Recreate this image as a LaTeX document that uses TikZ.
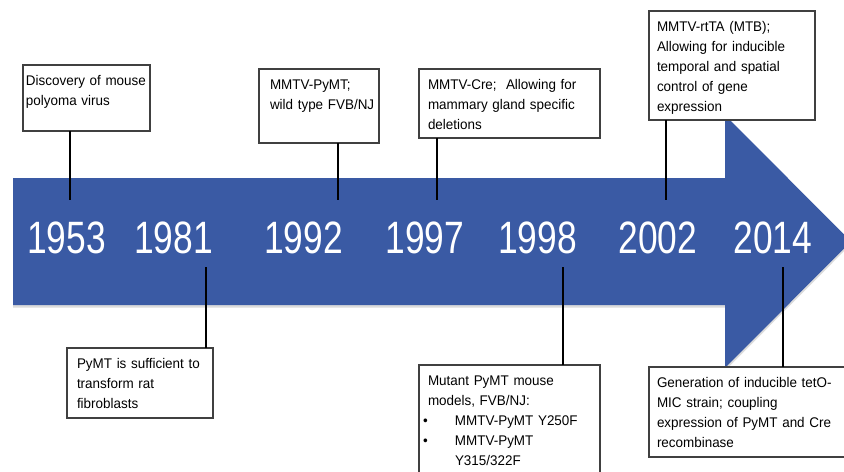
\documentclass[tikz,border=0pt]{standalone}
\usepackage{fontspec}
\setmainfont{Liberation Sans}
\newfontfamily\boxfont[FakeStretch=0.96]{Liberation Sans}
\newfontfamily\yearfont[FakeStretch=0.78]{Liberation Sans}
\usepackage{tikz}
\usetikzlibrary{positioning}
\definecolor{arrowblue}{RGB}{58,90,164}

\tikzset{
  evbox/.style={draw=black!75, line width=0.8pt, fill=white, anchor=north west,
    inner ysep=0pt, outer sep=0pt, text height=15pt, align=left,
    font=\boxfont\fontsize{10.5}{15}\selectfont},
  yearlabel/.style={text=white, anchor=base, inner sep=0pt,
    font=\yearfont\fontsize{34}{34}\selectfont},
  link/.style={black, line width=1.5pt},
}

\begin{document}
\begin{tikzpicture}[x=0.75pt, y=-0.75pt]
\useasboundingbox[fill=white] (0,0) rectangle (844,472);
\clip (0,0) rectangle (844,472);

% --- the time line ---
\fill[arrowblue, preaction={fill=black!40, opacity=0.35, transform canvas={yshift=-2pt}}]
  (13,178) -- (725,178) -- (725,115) -- (851,241.5) -- (725,368) -- (725,305) -- (13,305) -- cycle;
\foreach \yr/\xx in {1953/66.5,1981/173.5,1992/303.5,1997/425,1998/537.5,2002/658,2014/773}{
  \node[yearlabel] (y\yr) at (\xx,253) {\yr};
}
\foreach \yr/\xx/\yy in {1953/70/200,1981/206/267,1992/338/200,1997/437/200,1998/563/267,2002/666/200,2014/783/267}{
  \coordinate (t\yr) at (\xx,\yy);
}

% --- events above ---
\node[evbox, inner xsep=2.25pt, text width=90.75pt, text depth=34.5pt] (b1953) at (23,65)
  {Discovery~of~mouse\\polyoma virus};
\node[evbox, inner xsep=8.25pt, text width=73.5pt, text depth=40.5pt] (b1992) at (259,69)
  {MMTV-PyMT;\\wild~type~FVB/NJ};
\node[evbox, inner xsep=6.75pt, text width=122.25pt, text depth=36.75pt] (b1997) at (419,69)
  {MMTV-Cre;~ Allowing for\\mammary gland specific\\deletions};
\node[evbox, inner xsep=6pt, text width=112.5pt, text depth=66.75pt] (b2002) at (649,11)
  {MMTV-rtTA (MTB);\\Allowing for inducible\\temporal and spatial\\control of gene\\expression};

% --- events below ---
\node[evbox, inner xsep=7.5pt, text width=94.5pt, text depth=37.5pt] (b1981) at (67,348)
  {PyMT is sufficient to\\transform rat\\fibroblasts};
\node[evbox, inner xsep=6.75pt, text width=122.25pt, text depth=71.25pt] (b1998) at (419,365)
  {Mutant PyMT mouse\\models, FVB/NJ:\\
   \hspace*{-3.75pt}\makebox[24pt][l]{\textbullet}MMTV-PyMT Y250F\\
   \hspace*{-3.75pt}\makebox[24pt][l]{\textbullet}MMTV-PyMT\\
   \hspace*{20.25pt}Y315/322F};
\node[evbox, inner xsep=6pt, text width=135.75pt, text depth=52.5pt] (b2014) at (649,367)
  {Generation of inducible tetO-\\MIC strain; coupling\\expression of PyMT and Cre\\recombinase};

% --- connectors ---
\foreach \yr in {1953,1992,1997,2002}{
  \draw[link] (b\yr.south -| t\yr) -- (t\yr);
}
\foreach \yr in {1981,1998,2014}{
  \draw[link] (t\yr) -- (b\yr.north -| t\yr);
}
\end{tikzpicture}
\end{document}
